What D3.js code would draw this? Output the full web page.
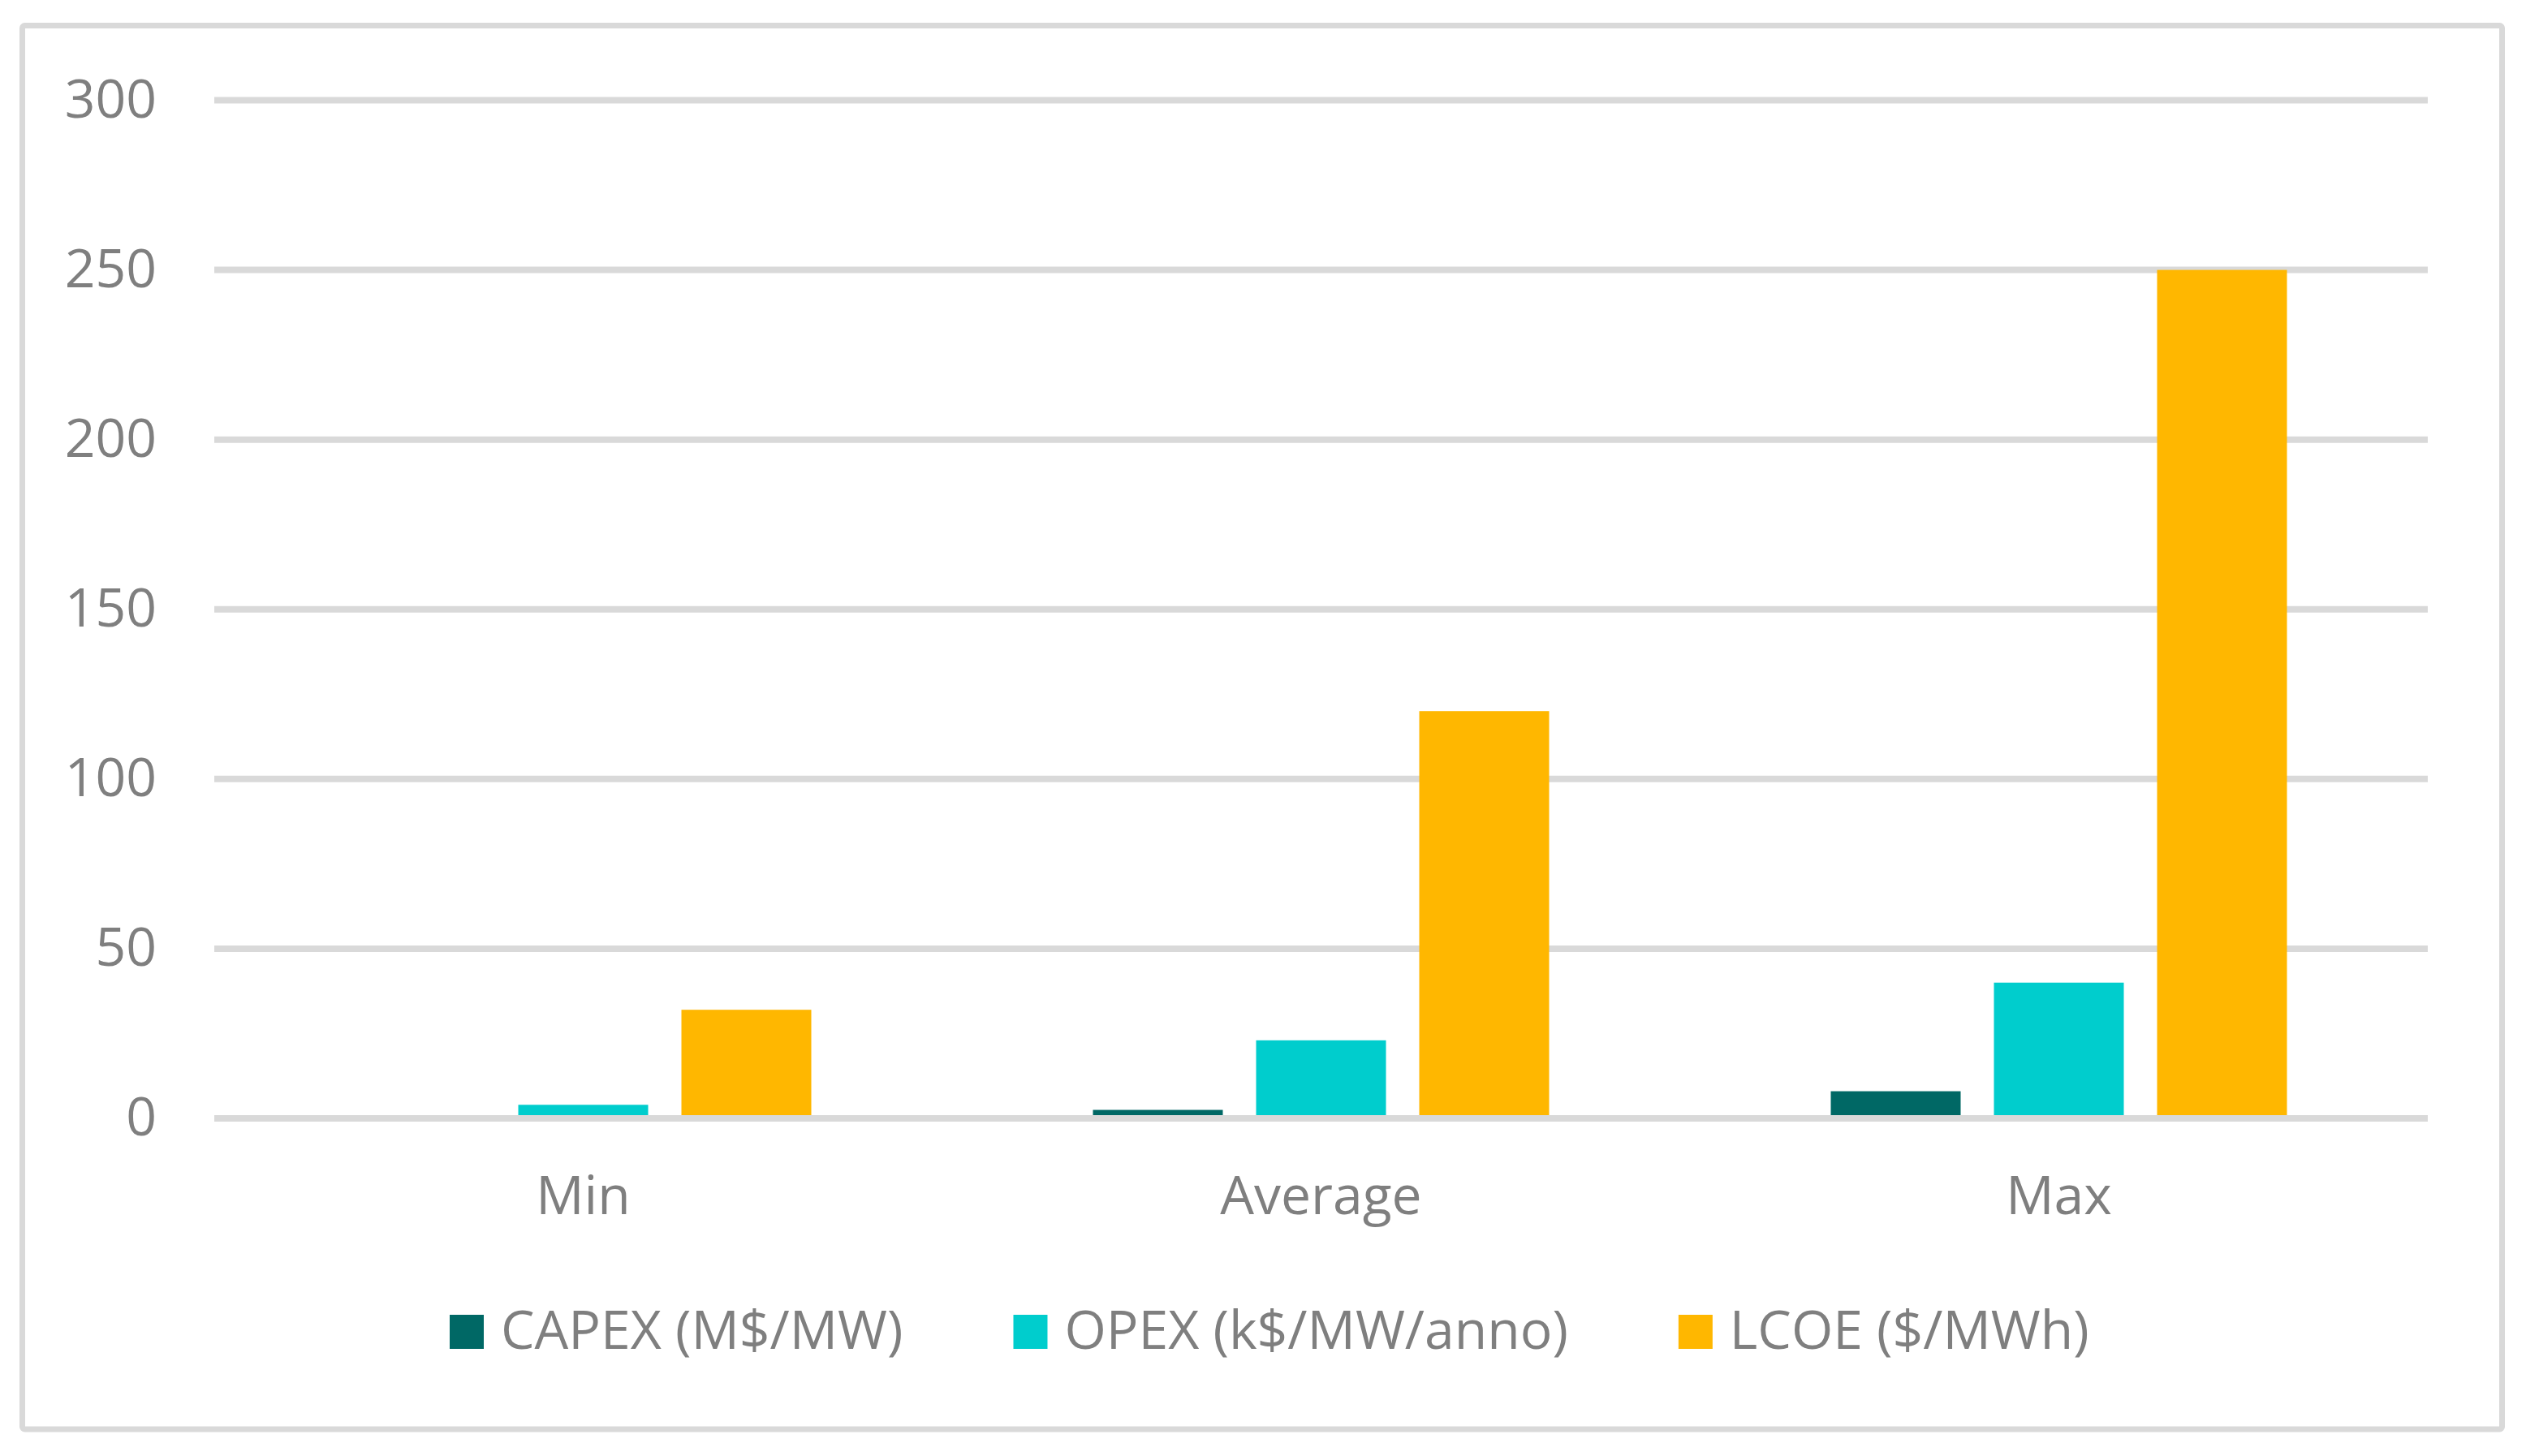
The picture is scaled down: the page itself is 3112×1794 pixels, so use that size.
<!DOCTYPE html>
<html>
<head>
<meta charset="utf-8">
<script src="https://cdn.jsdelivr.net/npm/d3@7"></script>
<style>
    body { margin: 0; background: #fff; }
    svg text { font-family: "Open Sans", "Noto Sans", sans-serif; fill: #7f7f7f; }
</style>
</head>
<body>
<div id="chart"></div>
<script>
// data
const categories = ['Min', 'Average', 'Max'];
const seriesNames = ['CAPEX (M$/MW)', 'OPEX (k$/MW/anno)', 'LCOE ($/MWh)'];
const capex = [0.8, 2.5, 8];
const opex = [4, 23, 40];
const lcoe = [32, 120, 250];
const yTicks = [0, 50, 100, 150, 200, 250, 300];
const colors = ['#006865', '#00cdcd', '#ffb700'];

const width = 3112;
const height = 1794;
const seriesValues = [capex, opex, lcoe];

window.addEventListener('load', () => {
    const svg = d3.select('#chart')
        .append('svg')
        .attr('width', width)
        .attr('height', height);

    svg.append('rect')
        .attr('width', width)
        .attr('height', height)
        .attr('fill', '#fff');

    // chart border
    svg.append('rect')
        .attr('x', 27.5)
        .attr('y', 31.5)
        .attr('width', 3055)
        .attr('height', 1729.5)
        .attr('rx', 3)
        .attr('fill', 'none')
        .attr('stroke', '#d9d9d9')
        .attr('stroke-width', 7);

    const x0 = d3.scaleBand()
        .domain(categories)
        .range([264, 2991]);

    const x1 = d3.scaleBand()
        .domain(seriesNames)
        .range([173.5, x0.bandwidth() - 173.5])
        .paddingInner(0.204);

    const y = d3.scaleLinear()
        .domain([0, 300])
        .range([1378, 123.5]);

    // gridlines
    svg.append('g')
        .selectAll('line')
        .data(yTicks.filter(d => d !== 0))
        .enter()
        .append('line')
        .attr('x1', 264)
        .attr('x2', 2991)
        .attr('y1', d => y(d))
        .attr('y2', d => y(d))
        .attr('stroke', '#d9d9d9')
        .attr('stroke-width', 8);

    // bars
    const rows = categories.map((c, i) => seriesNames.map((s, j) => ({ cat: c, name: s, value: seriesValues[j][i], color: colors[j] })));
    svg.append('g')
        .selectAll('g')
        .data(rows)
        .enter()
        .append('g')
        .attr('transform', d => `translate(${x0(d[0].cat)},0)`)
        .selectAll('rect')
        .data(d => d)
        .enter()
        .append('rect')
        .attr('x', d => x1(d.name))
        .attr('width', x1.bandwidth())
        .attr('y', d => y(d.value))
        .attr('height', d => y(0) - y(d.value))
        .attr('fill', d => d.color);

    // category axis line (drawn over the bars)
    svg.append('line')
        .attr('x1', 264)
        .attr('x2', 2991)
        .attr('y1', y(0))
        .attr('y2', y(0))
        .attr('stroke', '#d9d9d9')
        .attr('stroke-width', 8);

    // y tick labels
    svg.append('g')
        .selectAll('text')
        .data(yTicks)
        .enter()
        .append('text')
        .attr('x', 193)
        .attr('y', d => y(d) + 21)
        .attr('text-anchor', 'end')
        .style('font-size', '66px')
        .text(d => d);

    // category labels
    svg.append('g')
        .selectAll('text')
        .data(categories)
        .enter()
        .append('text')
        .attr('x', d => x0(d) + x0.bandwidth() / 2)
        .attr('y', 1496)
        .attr('text-anchor', 'middle')
        .style('font-size', '66px')
        .text(d => d);

    // legend
    const legend = svg.append('g')
        .attr('transform', 'translate(554,0)');
    const items = legend.selectAll('g')
        .data(seriesNames)
        .enter()
        .append('g');

    items.append('rect')
        .attr('width', 42)
        .attr('height', 42)
        .attr('y', 1620)
        .attr('fill', (d, i) => colors[i]);

    items.append('text')
        .attr('x', 63)
        .attr('y', 1662)
        .style('font-size', '66px')
        .text(d => d);

    let offset = 0;
    items.each(function() {
        const el = d3.select(this);
        const w = 63 + el.select('text').node().getComputedTextLength();
        el.attr('transform', `translate(${offset},0)`);
        offset += w + 136;
    });
});
</script>
</body>
</html>
